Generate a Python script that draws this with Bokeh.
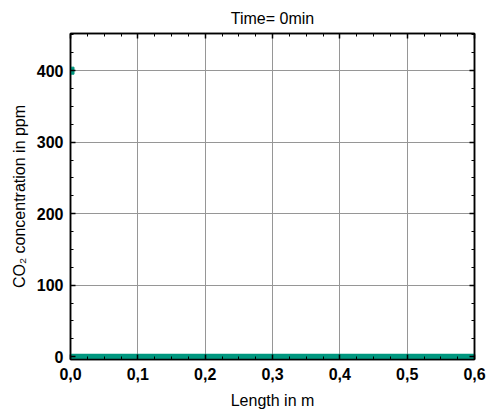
from bokeh.plotting import figure
from bokeh.models import (Range1d, LinearAxis, FixedTicker, CustomJSTickFormatter)
from bokeh.embed import file_html
from bokeh.resources import INLINE

# ---- data ----
title_text = "Time= 0min"
x_label = "Length in m"
y_label = "CO\u2082 concentration in ppm"

profile_length_m = [0.0, 0.1, 0.2, 0.3, 0.4, 0.5, 0.6]
profile_ppm = [0, 0, 0, 0, 0, 0, 0]

inlet_length_m = [0.0]
inlet_ppm = [400]

x_ticks = [0.0, 0.1, 0.2, 0.3, 0.4, 0.5, 0.6]
x_minor = [0.025, 0.05, 0.075, 0.125, 0.15, 0.175, 0.225, 0.25, 0.275,
           0.325, 0.35, 0.375, 0.425, 0.45, 0.475, 0.525, 0.55, 0.575]
y_ticks = [0, 100, 200, 300, 400]
y_minor = [25, 50, 75, 125, 150, 175, 225, 250, 275, 325, 350, 375, 425, 450]

FONT = "Liberation Sans"
GREEN = "#00977f"

p = figure(width=487, height=411, output_backend="svg", toolbar_location=None,
           x_range=Range1d(0.0, 0.6), y_range=Range1d(-4, 452),
           min_border_left=70, min_border_right=13, min_border_top=33,
           min_border_bottom=52, x_axis_location=None, y_axis_location=None)

p.title.text = title_text
p.title.align = "center"
p.title.text_font = FONT
p.title.text_font_style = "normal"
p.title.text_font_size = "16px"
p.title.text_color = "#000000"
p.title.standoff = 13

p.outline_line_color = "black"
p.outline_line_width = 1.5
p.background_fill_color = "white"
p.border_fill_color = "white"

xfmt = CustomJSTickFormatter(code="return tick.toFixed(1).replace('.', ',');")
blank = CustomJSTickFormatter(code="return '';")


def style_axis(ax, ticker):
    ax.ticker = ticker
    ax.axis_line_color = "black"
    ax.axis_line_width = 1.5
    ax.major_tick_in = 5
    ax.major_tick_out = 0
    ax.minor_tick_in = 3
    ax.minor_tick_out = 0
    ax.major_tick_line_color = "black"
    ax.minor_tick_line_color = "black"
    ax.major_tick_line_width = 1.5
    ax.minor_tick_line_width = 1
    ax.major_label_text_font = FONT
    ax.major_label_text_font_style = "bold"
    ax.major_label_text_font_size = "16px"
    ax.major_label_text_color = "black"
    ax.axis_label_text_font = FONT
    ax.axis_label_text_font_style = "normal"
    ax.axis_label_text_font_size = "16px"
    ax.axis_label_text_color = "black"


xt = FixedTicker(ticks=x_ticks, minor_ticks=x_minor)
yt = FixedTicker(ticks=y_ticks, minor_ticks=y_minor)

bx = LinearAxis(axis_label=x_label, formatter=xfmt)
style_axis(bx, xt)
bx.major_label_standoff = 8
bx.axis_label_standoff = 9
p.add_layout(bx, "below")

ly = LinearAxis(axis_label=y_label)
style_axis(ly, yt)
ly.major_label_standoff = 7
ly.axis_label_standoff = 6
p.add_layout(ly, "left")

ax_top = LinearAxis(formatter=blank)
style_axis(ax_top, xt)
ax_top.major_label_standoff = 0
p.add_layout(ax_top, "above")

ax_right = LinearAxis(formatter=blank)
style_axis(ax_right, yt)
ax_right.major_label_standoff = 0
p.add_layout(ax_right, "right")

p.xgrid.ticker = xt
p.ygrid.ticker = yt
p.xgrid.grid_line_color = "#969696"
p.ygrid.grid_line_color = "#969696"
p.xgrid.grid_line_width = 1
p.ygrid.grid_line_width = 1

p.line(profile_length_m, profile_ppm, line_color=GREEN, line_width=6)
p.scatter(inlet_length_m, inlet_ppm, marker="square", size=7,
          fill_color=GREEN, line_color=GREEN)

open("out.html", "w").write(file_html(p, INLINE))
